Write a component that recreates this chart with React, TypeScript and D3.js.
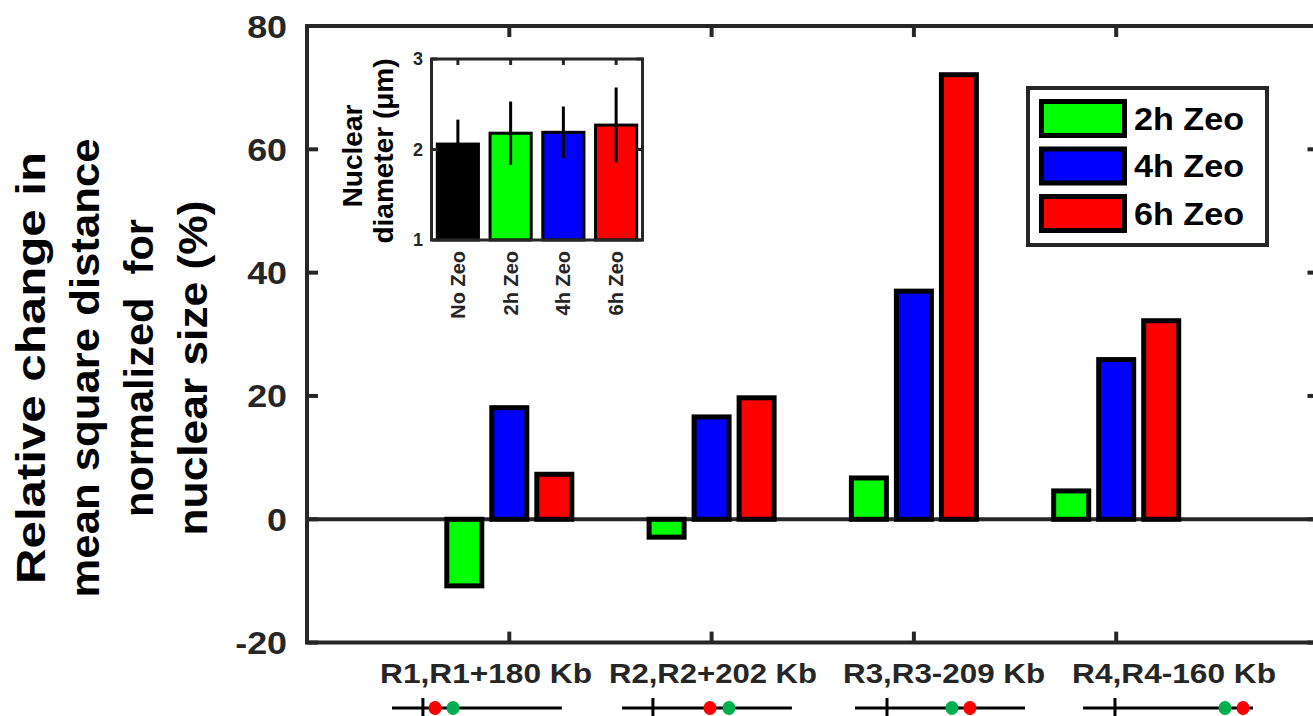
import React from 'react';
import * as d3 from 'd3';

// ---------- data ----------
const categories = ['R1,R1+180 Kb', 'R2,R2+202 Kb', 'R3,R3-209 Kb', 'R4,R4-160 Kb'];
const seriesNames = ['2h Zeo', '4h Zeo', '6h Zeo'];
const seriesColors = ['#00ff00', '#0000ff', '#ff0000'];
const zeo2h = [-10.8, -2.9, 6.7, 4.6];
const zeo4h = [18.1, 16.6, 37.0, 25.9];
const zeo6h = [7.3, 19.7, 72.1, 32.2];
const yTicks = [-20, 0, 20, 40, 60, 80];
const xTicks = [1, 2, 3, 4];
const yLabelLines = ['Relative change in', 'mean square distance', 'normalized  for', 'nuclear size (%)'];

// category label centres (x units) and locus diagrams (x units)
const labelCenters = [0.885, 2.007, 3.149, 4.286];
const diagramStart = [0.42, 1.557, 2.709, 3.836];
const diagramEnd = [1.26, 2.397, 3.549, 4.676];
const diagramAnchor = [0.573, 1.71, 2.867, 3.994];
const redLocus = [0.633, 1.992, 3.277, 4.627];
const greenLocus = [0.722, 2.086, 3.188, 4.538];

// inset
const insetCats = ['No Zeo', '2h Zeo', '4h Zeo', '6h Zeo'];
const insetMeans = [2.06, 2.18, 2.19, 2.27];
const insetErr = [0.27, 0.35, 0.285, 0.415];
const insetColors = ['#000000', '#00ff00', '#0000ff', '#ff0000'];
const insetYTicks = [1, 2, 3];

// ---------- styles ----------
const FONT = '"Liberation Sans", Arial, Helvetica, sans-serif';
const AX = '#262626';
const labelLengths = [212, 208, 202, 204];
const yLabelLengths = [432, 459, 298, 335];

function tickTextLength(s: string, size: number) {
  let em = 0;
  for (const ch of s) em += ch === '-' ? 0.333 : 0.556;
  return em * size * 1.12;
}

export default function App() {
  const W = 1313, H = 716;
  const x = d3.scaleLinear().domain([0, 5]).range([307, 1318.5]);
  const y = d3.scaleLinear().domain([-20, 80]).range([642.6, 26]);
  const series = [zeo2h, zeo4h, zeo6h];
  const barW = 0.173;
  const offs = [-0.2225, 0, 0.2225];
  const tickLen = 11;

  const ix = d3.scaleLinear().domain([0.5, 4.5]).range([431.5, 642.5]);
  const iy = d3.scaleLinear().domain([1, 3]).range([240, 59]);
  const ibw = 0.78;

  const legX = 1028, legY = 88, legW = 239, legH = 157;
  const rowH = 47.5;

  return (
    <svg width={W} height={H} style={{ position: 'absolute', left: 0, top: 0, background: '#fff' }}
      fontFamily={FONT} fontWeight="bold">
      <rect x={0} y={0} width={W} height={H} fill="#fff" />

      {/* zero baseline */}
      <line x1={x(0)} x2={x(5)} y1={y(0)} y2={y(0)} stroke={AX} strokeWidth={4} />

      {/* bars */}
      {series.map((vals, si) =>
        vals.map((v, ci) => {
          const cx = x(xTicks[ci] + offs[si]);
          const y0 = y(0), y1 = y(v);
          return (
            <rect key={`b${si}-${ci}`} x={cx - (x(barW) - x(0)) / 2} width={x(barW) - x(0)}
              y={Math.min(y0, y1)} height={Math.abs(y1 - y0)}
              fill={seriesColors[si]} stroke="#000" strokeWidth={5} />
          );
        })
      )}

      {/* axes box */}
      <g stroke={AX} strokeWidth={4} fill="none">
        <line x1={x(0)} x2={x(0)} y1={y(-20)} y2={y(80)} />
        <line x1={x(5)} x2={x(5)} y1={y(-20)} y2={y(80)} />
        <line x1={x(0) - 2} x2={x(5)} y1={y(80)} y2={y(80)} />
        <line x1={x(0) - 2} x2={x(5)} y1={y(-20)} y2={y(-20)} />
        {yTicks.map(t => (
          <g key={`yt${t}`}>
            <line x1={x(0)} x2={x(0) + tickLen} y1={y(t)} y2={y(t)} />
            <line x1={x(5)} x2={x(5) - tickLen} y1={y(t)} y2={y(t)} />
          </g>
        ))}
        {xTicks.map(t => (
          <g key={`xt${t}`}>
            <line x1={x(t)} x2={x(t)} y1={y(-20)} y2={y(-20) - tickLen} />
            <line x1={x(t)} x2={x(t)} y1={y(80)} y2={y(80) + tickLen} />
          </g>
        ))}
      </g>

      {/* y tick labels */}
      {yTicks.map(t => (
        <text key={`ytl${t}`} x={287} y={y(t)} dy="0.36em" textAnchor="end" fontSize={32} fill={AX}
          textLength={tickTextLength(String(t), 32)} lengthAdjust="spacingAndGlyphs">{t}</text>
      ))}

      {/* y label */}
      {yLabelLines.map((ln, i) => (
        <text key={`yl${i}`} transform={`translate(${45 + 54 * i},368) rotate(-90)`} textAnchor="middle"
          fontSize={41} fill="#000" textLength={yLabelLengths[i]} lengthAdjust="spacingAndGlyphs"
          style={{ whiteSpace: 'pre' }}>{ln}</text>
      ))}

      {/* category labels */}
      {categories.map((c, i) => (
        <text key={`cl${i}`} x={x(labelCenters[i])} y={683} textAnchor="middle" fontSize={28} fill={AX}
          textLength={labelLengths[i]} lengthAdjust="spacingAndGlyphs">{c}</text>
      ))}

      {/* locus diagrams */}
      {categories.map((c, i) => (
        <g key={`dg${i}`}>
          <line x1={x(diagramStart[i])} x2={x(diagramEnd[i])} y1={708} y2={708} stroke="#000" strokeWidth={3} />
          <line x1={x(diagramAnchor[i])} x2={x(diagramAnchor[i])} y1={698} y2={718} stroke="#000" strokeWidth={3} />
          <ellipse cx={x(redLocus[i])} cy={708} rx={6.5} ry={7} fill="#ff0000" />
          <ellipse cx={x(greenLocus[i])} cy={708} rx={6.5} ry={7} fill="#00b050" />
        </g>
      ))}

      {/* inset */}
      <g>
        <rect x={ix(0.5)} y={iy(3)} width={ix(4.5) - ix(0.5)} height={iy(1) - iy(3)} fill="#fff" />
        {insetMeans.map((m, i) => {
          const cx = ix(i + 1);
          const w = ix(ibw) - ix(0);
          return (
            <g key={`ib${i}`}>
              <rect x={cx - w / 2} width={w} y={iy(m)} height={iy(1) - iy(m)} fill={insetColors[i]} stroke="#000" strokeWidth={3} />
              <line x1={cx} x2={cx} y1={iy(m - insetErr[i])} y2={iy(m + insetErr[i])} stroke="#000" strokeWidth={3} />
            </g>
          );
        })}
        <g stroke={AX} strokeWidth={3} fill="none">
          <rect x={ix(0.5)} y={iy(3)} width={ix(4.5) - ix(0.5)} height={iy(1) - iy(3)} />
          {insetYTicks.map(t => (
            <g key={`iyt${t}`}>
              <line x1={ix(0.5)} x2={ix(0.5) + 6} y1={iy(t)} y2={iy(t)} />
              <line x1={ix(4.5)} x2={ix(4.5) - 6} y1={iy(t)} y2={iy(t)} />
            </g>
          ))}
          {insetCats.map((c, i) => (
            <line key={`ixt${i}`} x1={ix(i + 1)} x2={ix(i + 1)} y1={iy(3)} y2={iy(3) + 6} />
          ))}
        </g>
        {insetYTicks.map(t => (
          <text key={`iytl${t}`} x={423} y={iy(t)} dy="0.36em" textAnchor="end" fontSize={18} fill={AX}>{t}</text>
        ))}
        {insetCats.map((c, i) => (
          <text key={`ixl${i}`} transform={`translate(${ix(i + 1) + 7},251) rotate(-90)`} textAnchor="end"
            fontSize={20} fill={AX}>{c}</text>
        ))}
        <text transform="translate(362,156) rotate(-90)" textAnchor="middle" fontSize={28} fill="#000">Nuclear</text>
        <text transform="translate(393,151) rotate(-90)" textAnchor="middle" fontSize={28} fill="#000">diameter (μm)</text>
      </g>

      {/* legend */}
      <g>
        <rect x={legX} y={legY} width={legW} height={legH} fill="#fff" stroke={AX} strokeWidth={4} />
        {seriesNames.map((s, i) => {
          const cy = 118.5 + rowH * i;
          return (
            <g key={`lg${i}`}>
              <rect x={1041.5} y={cy - 17} width={83} height={34} fill={seriesColors[i]} stroke="#000" strokeWidth={5} />
              <text x={1134} y={cy + 11} fontSize={32} fill="#000" textLength={110} lengthAdjust="spacingAndGlyphs">{s}</text>
            </g>
          );
        })}
      </g>
    </svg>
  );
}
